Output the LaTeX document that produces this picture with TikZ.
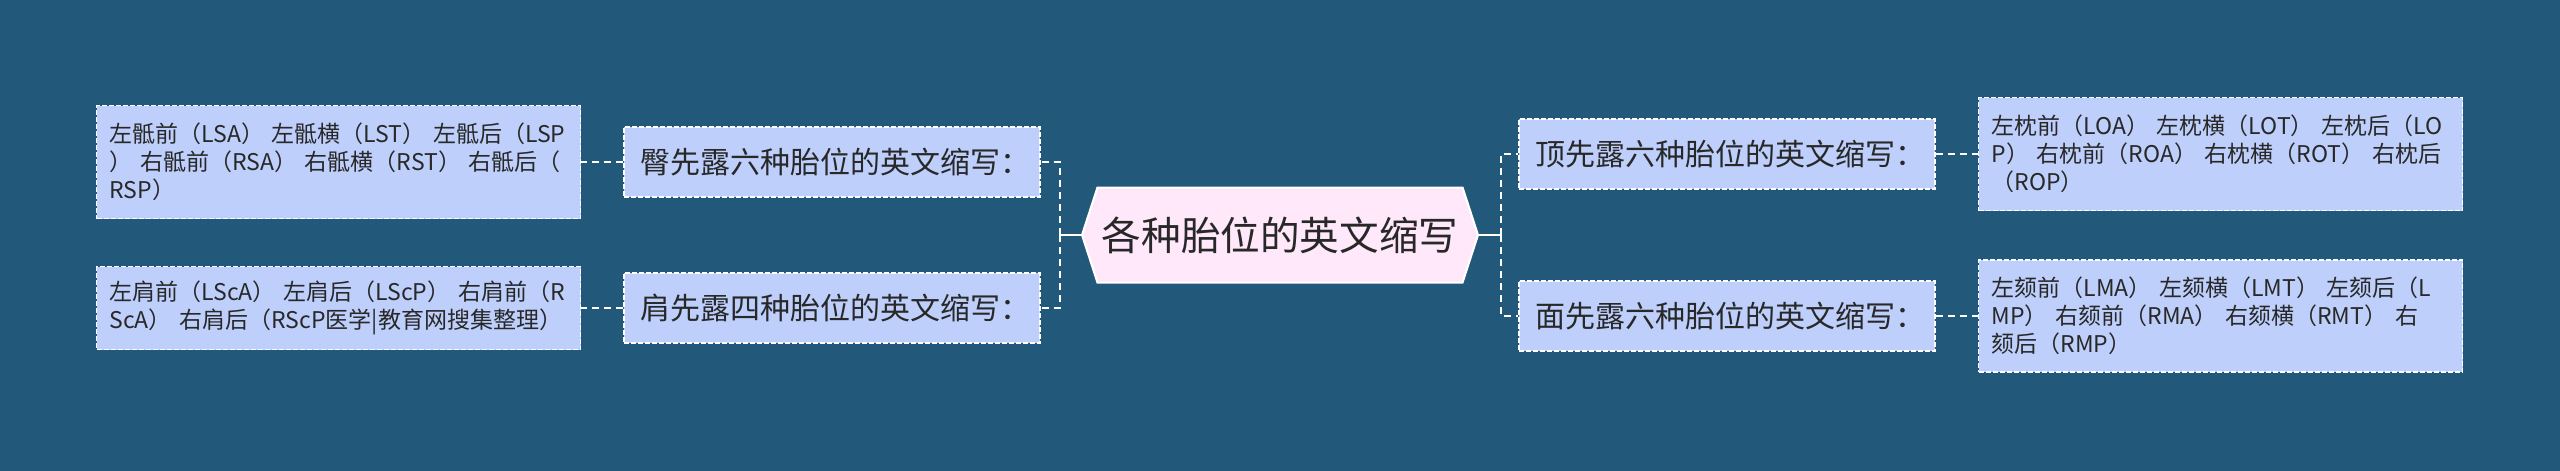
\documentclass[tikz,border=0pt]{standalone}
\usepackage{fontspec}
\setmainfont{Noto Sans CJK SC}
\usetikzlibrary{positioning,shapes.symbols}
\definecolor{bgblue}{RGB}{34,88,122}
\definecolor{boxblue}{RGB}{189,207,250}
\definecolor{rootpink}{RGB}{255,232,250}
\definecolor{inkgray}{RGB}{40,40,40}
\tikzstyle{topic}=[signal,signal to=west and east,signal pointer angle=144,
                   fill=rootpink,draw=white,line width=1pt,text=inkgray,
                   minimum width=198pt,minimum height=47.5pt,inner sep=0pt,
                   font=\fontsize{19.8pt}{24pt}\selectfont]
\tikzstyle{branch}=[rectangle,fill=boxblue,draw=white,line width=.75pt,
                    dash pattern=on 2.5pt off 1pt,text=inkgray,
                    text width=192pt,inner xsep=8pt,minimum height=35pt,align=left,
                    font=\fontsize{15pt}{18pt}\selectfont]
\tikzstyle{leaf}=[rectangle,fill=boxblue,draw=white,line width=.75pt,
                  dash pattern=on 2.5pt off 1pt,text=inkgray,
                  text width=229pt,inner xsep=6.5pt,align=left,
                  font=\fontsize{11.5pt}{14pt}\selectfont]
\tikzstyle{line}=[white,line width=1.1pt]
\tikzstyle{dline}=[line,dash pattern=on 3.5pt off 2.5pt]

\begin{document}
\begin{tikzpicture}[x=0.5pt,y=-0.5pt,node distance=21pt]
	\useasboundingbox[fill=bgblue] (0,0) rectangle (2560,471);

	\node[topic] (root) at (1280,235) {各种胎位的英文缩写};

	\node[branch] (b1) at (832,162) {臀先露六种胎位的英文缩写：};
	\node[branch] (b2) at (832,308) {肩先露四种胎位的英文缩写：};
	\node[branch] (b3) at (1727,154) {顶先露六种胎位的英文缩写：};
	\node[branch] (b4) at (1727,316) {面先露六种胎位的英文缩写：};

	\node[leaf,minimum height=56.5pt] (l1) [left=of b1]
		{左骶前（LSA） 左骶横（LST） 左骶后（LSP\\） 右骶前（RSA） 右骶横（RST） 右骶后（\\RSP）};
	\node[leaf,minimum height=41.5pt] (l2) [left=of b2]
		{左肩前（LScA） 左肩后（LScP） 右肩前（R\\ScA） 右肩后（RScP医学|教育网搜集整理）};
	\node[leaf,minimum height=56.5pt] (l3) [right=of b3]
		{左枕前（LOA） 左枕横（LOT） 左枕后（LO\\P） 右枕前（ROA） 右枕横（ROT） 右枕后\\（ROP）};
	\node[leaf,minimum height=56pt] (l4) [right=of b4]
		{左颏前（LMA） 左颏横（LMT） 左颏后（L\\MP） 右颏前（RMA） 右颏横（RMT） 右\\颏后（RMP）};

	\coordinate[left=10.5pt of root] (lj);
	\coordinate[right=11pt of root] (rj);

	\draw[line] (root.west) -- (lj);
	\draw[line] (root.east) -- (rj);
	\draw[dline] (lj) |- (b1.east);
	\draw[dline] (lj) |- (b2.east);
	\draw[dline] (rj) |- (b3.west);
	\draw[dline] (rj) |- (b4.west);

	\draw[dline] (b1.west) -- (l1.east);
	\draw[dline] (b2.west) -- (l2.east);
	\draw[dline] (b3.east) -- (l3.west);
	\draw[dline] (b4.east) -- (l4.west);
\end{tikzpicture}
\end{document}
